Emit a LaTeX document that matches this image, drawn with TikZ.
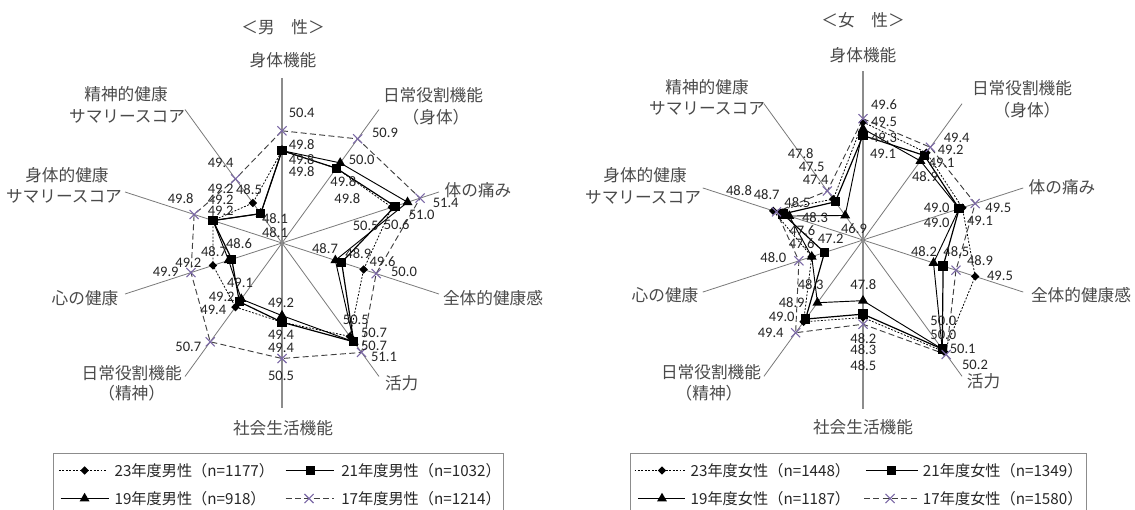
\documentclass[tikz,border=0pt]{standalone}
\usepackage{fontspec}
\setmainfont{Carlito}
\newfontfamily\jp{Noto Sans CJK JP}
\usetikzlibrary{shapes.geometric,shapes.misc}
\definecolor{txtc}{HTML}{4A4A4A}
\definecolor{numc}{HTML}{262626}
\definecolor{axc}{HTML}{7A7A7A}
\definecolor{vaxc}{HTML}{8C8C8C}
\definecolor{xpur}{HTML}{7B68A6}
\definecolor{dashc}{HTML}{404040}
\definecolor{boxc}{HTML}{8C8C8C}
\tikzset{
  num/.style={font=\fontsize{10.9}{11}\selectfont, text=numc, inner sep=0pt},
  cat/.style={font=\jp\fontsize{12.5}{14}\selectfont, text=txtc, inner sep=0pt},
  legtxt/.style={font=\jp\fontsize{11.4}{13}\selectfont, text=numc, inner sep=0pt, anchor=west},
  axisln/.style={draw=axc, line width=0.6pt},
  vaxisln/.style={draw=vaxc, line width=1.4pt},
  s23/.style={draw=black, line width=0.6pt, dash pattern=on 1.4pt off 1.2pt},
  s21/.style={draw=black, line width=0.9pt},
  s19/.style={draw=black, line width=0.7pt},
  s17/.style={draw=dashc, line width=0.7pt, dash pattern=on 4.5pt off 2.5pt},
  m23/.style={diamond, fill=black, inner sep=0pt, minimum width=6.5pt, minimum height=6.5pt},
  m21/.style={rectangle, fill=black, inner sep=0pt, minimum size=7pt},
  m19/.style={regular polygon, regular polygon sides=3, fill=black, inner sep=0pt, minimum size=8.6pt},
  m17/.style={cross out, draw=xpur, line width=0.8pt, inner sep=0pt, minimum size=6pt},
  boxln/.style={draw=boxc, line width=0.6pt},
}
\newcommand\mkser[4]{\foreach \v [count=\i from 0] in {#4} {\coordinate (#1-\i) at ({\i*36-90}:{(\v-#2)*#3});}}
\newcommand\mkpoly[2]{\draw[#2] (#1-0) -- (#1-1) -- (#1-2) -- (#1-3) -- (#1-4) -- (#1-5) -- (#1-6) -- (#1-7) -- (#1-8) -- (#1-9) -- cycle;}
\newcommand\mkmarks[2]{\foreach \i in {0,...,9} {\node[#2] (#1-m\i) at (#1-\i) {};}}
\newcommand\mkaxes[2]{%
  \coordinate (#1-c) at (0,0);
  \foreach \i in {1,2,3,4,6,7,8,9} {\coordinate (#1-a\i) at ({\i*36-90}:#2); \draw[axisln] (#1-c) -- (#1-a\i);}
  \coordinate (#1-a0) at (-90:#2); \coordinate (#1-a5) at (90:#2);
  \draw[vaxisln] (#1-a0) -- (#1-a5);}
\begin{document}
\begin{tikzpicture}[x=0.75pt,y=-0.75pt]
\path[fill=white, use as bounding box] (0,0) rectangle (1135,510);

% ---------------- male chart ----------------
\begin{scope}[shift={(282,243)}]
  \mkaxes{L}{165}
  \mkser{L23}{47}{33}{49.8,49.8,50.5,49.6,50.5,49.4,49.4,49.2,49.2,48.5}
  \mkser{L21}{47}{33}{49.8,49.8,50.6,48.9,50.7,49.4,49.2,48.6,49.2,48.1}
  \mkser{L19}{47}{33}{49.8,50.0,51.0,48.7,50.7,49.2,49.1,48.7,49.2,48.1}
  \mkser{L17}{47}{33}{50.4,50.9,51.4,50.0,51.1,50.5,50.7,49.9,49.8,49.4}
  \mkpoly{L23}{s23} \mkpoly{L21}{s21} \mkpoly{L19}{s19} \mkpoly{L17}{s17}
  \mkmarks{L23}{m23} \mkmarks{L21}{m21} \mkmarks{L19}{m19} \mkmarks{L17}{m17}
\end{scope}

% ---------------- female chart ----------------
\begin{scope}[shift={(863,240)}]
  \mkaxes{R}{168.5}
  \mkser{R23}{46}{33.7}{49.5,49.2,49.1,49.5,50.1,48.3,49.0,47.6,48.8,47.5}
  \mkser{R21}{46}{33.7}{49.1,49.1,49.0,48.5,50.0,48.2,48.9,47.2,48.5,47.4}
  \mkser{R19}{46}{33.7}{49.3,48.9,49.0,48.2,50.0,47.8,48.3,47.6,48.3,46.9}
  \mkser{R17}{46}{33.7}{49.6,49.4,49.5,48.9,50.2,48.5,49.4,48.0,48.7,47.8}
  \mkpoly{R23}{s23} \mkpoly{R21}{s21} \mkpoly{R19}{s19} \mkpoly{R17}{s17}
  \mkmarks{R23}{m23} \mkmarks{R21}{m21} \mkmarks{R19}{m19} \mkmarks{R17}{m17}
\end{scope}

% value labels, male
\foreach \x/\y/\t [count=\n] in {301.7/113.3/50.4, 301.7/145/49.8, 301.7/159.7/49.8, 301.7/172/49.8,
  385/133.3/50.9, 361.7/160/50.0, 343.3/181.7/49.8, 347.3/198.3/49.8,
  421.7/215/51.0, 445.7/203.3/51.4, 365.7/226/50.5, 396.7/225/50.6,
  220.7/163.3/49.4, 220.7/188.8/49.2, 249/190/48.5, 220.7/200/49.2, 220.7/211.2/49.2,
  180.7/198.3/49.8, 275/218.3/48.1, 275/232.7/48.1,
  239/244/48.6, 214/251.7/48.7, 188.3/263.3/49.2, 165.7/271.7/49.9,
  240/283.3/49.1, 221.7/296.7/49.2, 213.3/310/49.4, 188.3/346.7/50.7,
  281/303.3/49.2, 281/335/49.4, 281/347.7/49.4, 281/375.7/50.5,
  325/248.3/48.7, 358.3/253.3/48.9, 382.5/261.7/49.6, 404/272.3/50.0,
  355.8/320/50.5, 374/333.3/50.7, 374/346/50.7, 384/356.7/51.1}
  {\node[num] (LV\n) at (\x,\y) {\t};}

% value labels, female
\foreach \x/\y/\t [count=\n] in {884/105/49.6, 884/121.7/49.5, 884/137.7/49.3, 883/154.3/49.1,
  956.7/137.7/49.4, 950.7/150/49.2, 941.7/163.3/49.1, 925/176.7/48.9,
  936.7/208.3/49.0, 936.7/223.3/49.0, 998.3/208.3/49.5, 980/221/49.1,
  800.7/153.3/47.8, 811.7/166.7/47.5, 815.7/180/47.4,
  739/190.7/48.8, 766.7/195/48.7, 797.3/202.3/48.5, 815/217.7/48.3, 854/229/46.9,
  802.3/231/47.6, 830.7/239/47.2,
  801.7/243.3/47.6, 773.3/257.3/48.0, 810.7/285/48.3, 791.7/302.7/48.9, 781.7/317.3/49.0, 770.7/332.7/49.4,
  863.3/285/47.8, 863.3/338.3/48.2, 863.3/349.8/48.3, 863.3/366/48.5,
  924/251.7/48.2, 956.3/251.7/48.5, 980/260.7/48.9, 1000/276/49.5,
  943.3/320.7/50.0, 943.3/335/50.0, 962.7/349.3/50.1, 975/365/50.2}
  {\node[num] (RV\n) at (\x,\y) {\t};}

% category labels, male
\node[cat] (Lt) at (283,27) {＜男　性＞};
\node[cat] (Lc0) at (283,60) {身体機能};
\node[cat] (Lc1a) at (433,95) {日常役割機能};
\node[cat] (Lc1b) at (436,117) {（身体）};
\node[cat] (Lc2) at (478,190) {体の痛み};
\node[cat] (Lc3) at (493,298) {全体的健康感};
\node[cat] (Lc4) at (401.7,383) {活力};
\node[cat] (Lc5) at (283,428) {社会生活機能};
\node[cat] (Lc6a) at (131.7,373) {日常役割機能};
\node[cat] (Lc6b) at (131.7,393) {（精神）};
\node[cat] (Lc7) at (85,298) {心の健康};
\node[cat] (Lc8a) at (67,175) {身体的健康};
\node[cat] (Lc8b) at (64,196) {サマリースコア};
\node[cat] (Lc9a) at (126,94) {精神的健康};
\node[cat] (Lc9b) at (127,116) {サマリースコア};

% category labels, female
\node[cat] (Rt) at (863,20) {＜女　性＞};
\node[cat] (Rc0) at (863,55) {身体機能};
\node[cat] (Rc1a) at (1022,88) {日常役割機能};
\node[cat] (Rc1b) at (1027,110) {（身体）};
\node[cat] (Rc2) at (1062,187) {体の痛み};
\node[cat] (Rc3) at (1081,295) {全体的健康感};
\node[cat] (Rc4) at (983.5,381) {活力};
\node[cat] (Rc5) at (863,427) {社会生活機能};
\node[cat] (Rc6a) at (711,372) {日常役割機能};
\node[cat] (Rc6b) at (709,393) {（精神）};
\node[cat] (Rc7) at (665,295) {心の健康};
\node[cat] (Rc8a) at (645,175) {身体的健康};
\node[cat] (Rc8b) at (643,197) {サマリースコア};
\node[cat] (Rc9a) at (707,87) {精神的健康};
\node[cat] (Rc9b) at (707,108) {サマリースコア};

% legend, male
\coordinate (LB1) at (53.6,510); \coordinate (LB2) at (53.6,453.5);
\coordinate (LB3) at (502.9,453.5); \coordinate (LB4) at (502.9,510);
\draw[boxln] (LB1) -- (LB2) -- (LB3) -- (LB4);
\coordinate (LG1a) at (59,470.5); \coordinate (LG1b) at (107,470.5);
\draw[s23] (LG1a) -- (LG1b); \node[m23] (LG1m) at (84.6,470.5) {};
\node[legtxt] (LG1t) at (114.3,470.5) {23年度男性（n=1177）};
\coordinate (LG2a) at (285.7,470.5); \coordinate (LG2b) at (334,470.5);
\draw[s21] (LG2a) -- (LG2b); \node[m21] (LG2m) at (310.7,470.5) {};
\node[legtxt] (LG2t) at (341,470.5) {21年度男性（n=1032）};
\coordinate (LG3a) at (60.7,498.5); \coordinate (LG3b) at (109,498.5);
\draw[s19] (LG3a) -- (LG3b); \node[m19] (LG3m) at (84.6,498.5) {};
\node[legtxt] (LG3t) at (114.3,498.5) {19年度男性（n=918）};
\coordinate (LG4a) at (285.7,498.5); \coordinate (LG4b) at (334,498.5);
\draw[s17] (LG4a) -- (LG4b); \node[m17] (LG4m) at (309,498.5) {};
\node[legtxt] (LG4t) at (341,498.5) {17年度男性（n=1214）};

% legend, female
\coordinate (RB1) at (630.4,510); \coordinate (RB2) at (630.4,453.5);
\coordinate (RB3) at (1086,453.5); \coordinate (RB4) at (1086,510);
\draw[boxln] (RB1) -- (RB2) -- (RB3) -- (RB4);
\coordinate (RG1a) at (634.5,470.5); \coordinate (RG1b) at (686,470.5);
\draw[s23] (RG1a) -- (RG1b); \node[m23] (RG1m) at (662,470.5) {};
\node[legtxt] (RG1t) at (690.4,470.5) {23年度女性（n=1448）};
\coordinate (RG2a) at (865.8,470.5); \coordinate (RG2b) at (917.6,470.5);
\draw[s21] (RG2a) -- (RG2b); \node[m21] (RG2m) at (891.7,470.5) {};
\node[legtxt] (RG2t) at (922.7,470.5) {21年度女性（n=1349）};
\coordinate (RG3a) at (638,498.5); \coordinate (RG3b) at (684.6,498.5);
\draw[s19] (RG3a) -- (RG3b); \node[m19] (RG3m) at (662,498.5) {};
\node[legtxt] (RG3t) at (690.4,498.5) {19年度女性（n=1187）};
\coordinate (RG4a) at (864,498.5); \coordinate (RG4b) at (917.6,498.5);
\draw[s17] (RG4a) -- (RG4b); \node[m17] (RG4m) at (890,498.5) {};
\node[legtxt] (RG4t) at (922.7,498.5) {17年度女性（n=1580）};
\end{tikzpicture}
\end{document}
